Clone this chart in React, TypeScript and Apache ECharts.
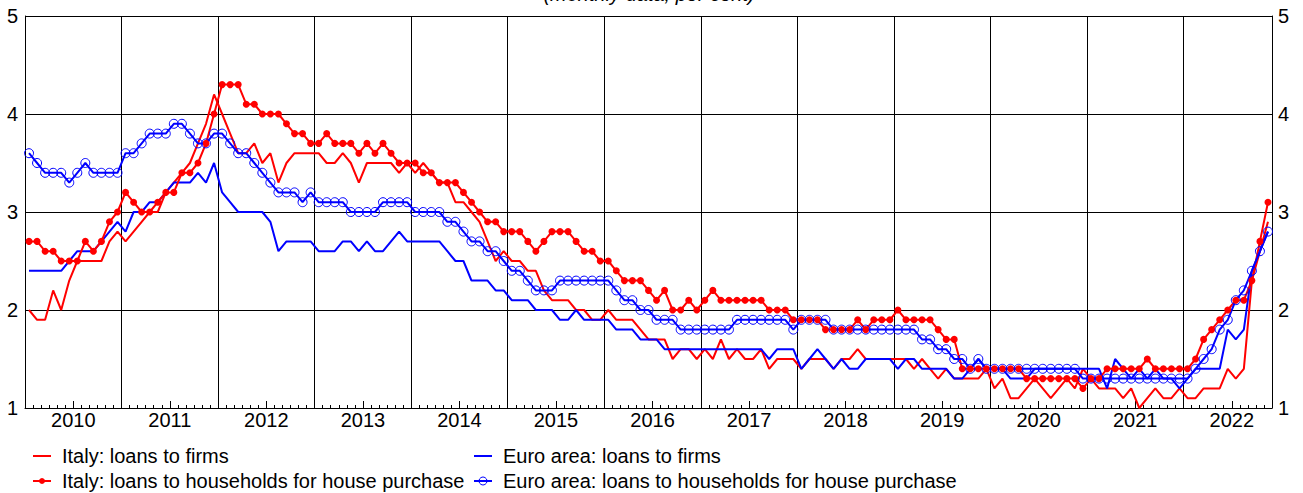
import React, { useEffect, useRef } from "react";
import * as echarts from "echarts";

// Monthly observations, January 2010 – November 2022 (per cent)
const italyFirms = [
  2.0, 1.9, 1.9, 2.2, 2.0, 2.3, 2.5, 2.5, 2.5, 2.5, 2.7, 2.8,
  2.7, 2.8, 2.9, 3.0, 3.0, 3.2, 3.3, 3.4, 3.5, 3.7, 3.9, 4.2,
  4.0, 3.8, 3.6, 3.6, 3.7, 3.5, 3.6, 3.3, 3.5, 3.6, 3.6, 3.6,
  3.6, 3.5, 3.5, 3.6, 3.5, 3.3, 3.5, 3.5, 3.5, 3.5, 3.4, 3.5,
  3.4, 3.5, 3.4, 3.3, 3.3, 3.1, 3.1, 3.0, 2.9, 2.7, 2.5, 2.6,
  2.5, 2.5, 2.4, 2.4, 2.2, 2.1, 2.1, 2.1, 2.0, 2.0, 1.9, 1.9,
  2.0, 1.9, 1.9, 1.9, 1.8, 1.7, 1.7, 1.7, 1.5, 1.6, 1.6, 1.5,
  1.6, 1.5, 1.7, 1.5, 1.6, 1.5, 1.5, 1.6, 1.4, 1.5, 1.5, 1.5,
  1.4, 1.5, 1.5, 1.5, 1.4, 1.5, 1.5, 1.6, 1.5, 1.5, 1.5, 1.5,
  1.5, 1.5, 1.4, 1.5, 1.4, 1.3, 1.4, 1.3, 1.3, 1.3, 1.3, 1.4,
  1.2, 1.3, 1.1, 1.1, 1.2, 1.3, 1.2, 1.1, 1.2, 1.3, 1.2, 1.4,
  1.3, 1.2, 1.2, 1.2, 1.1, 1.2, 1.0, 1.1, 1.2, 1.1, 1.1, 1.2,
  1.1, 1.1, 1.2, 1.2, 1.2, 1.4, 1.3, 1.4, 2.3, 2.6, 2.9,
];

const italyHouseholds = [
  2.7, 2.7, 2.6, 2.6, 2.5, 2.5, 2.5, 2.7, 2.6, 2.7, 2.9, 3.0,
  3.2, 3.1, 3.0, 3.0, 3.1, 3.2, 3.2, 3.4, 3.4, 3.5, 3.7, 4.0,
  4.3, 4.3, 4.3, 4.1, 4.1, 4.0, 4.0, 4.0, 3.9, 3.8, 3.8, 3.7,
  3.7, 3.8, 3.7, 3.7, 3.7, 3.6, 3.7, 3.6, 3.7, 3.6, 3.5, 3.5,
  3.5, 3.4, 3.4, 3.3, 3.3, 3.3, 3.2, 3.1, 3.0, 2.9, 2.9, 2.8,
  2.8, 2.8, 2.7, 2.6, 2.7, 2.8, 2.8, 2.8, 2.7, 2.6, 2.6, 2.5,
  2.5, 2.4, 2.3, 2.3, 2.3, 2.2, 2.1, 2.2, 2.0, 2.0, 2.1, 2.0,
  2.1, 2.2, 2.1, 2.1, 2.1, 2.1, 2.1, 2.1, 2.0, 2.0, 2.0, 1.9,
  1.9, 1.9, 1.9, 1.8, 1.8, 1.8, 1.8, 1.9, 1.8, 1.9, 1.9, 1.9,
  2.0, 1.9, 1.9, 1.9, 1.9, 1.8, 1.7, 1.7, 1.4, 1.4, 1.4, 1.4,
  1.4, 1.4, 1.4, 1.4, 1.3, 1.3, 1.3, 1.3, 1.3, 1.3, 1.3, 1.2,
  1.3, 1.3, 1.4, 1.4, 1.4, 1.4, 1.4, 1.5, 1.4, 1.4, 1.4, 1.4,
  1.4, 1.5, 1.7, 1.8, 1.9, 2.0, 2.1, 2.1, 2.3, 2.7, 3.1,
];

const euroFirms = [
  2.4, 2.4, 2.4, 2.4, 2.4, 2.5, 2.6, 2.6, 2.6, 2.7, 2.8, 2.9,
  2.8, 3.0, 3.0, 3.1, 3.1, 3.2, 3.3, 3.3, 3.3, 3.4, 3.3, 3.5,
  3.2, 3.1, 3.0, 3.0, 3.0, 3.0, 2.9, 2.6, 2.7, 2.7, 2.7, 2.7,
  2.6, 2.6, 2.6, 2.7, 2.7, 2.6, 2.7, 2.6, 2.6, 2.7, 2.8, 2.7,
  2.7, 2.7, 2.7, 2.7, 2.6, 2.5, 2.5, 2.3, 2.3, 2.3, 2.2, 2.2,
  2.1, 2.1, 2.1, 2.0, 2.0, 2.0, 1.9, 1.9, 2.0, 1.9, 1.9, 1.9,
  1.9, 1.8, 1.8, 1.8, 1.7, 1.7, 1.7, 1.6, 1.6, 1.6, 1.6, 1.6,
  1.6, 1.6, 1.6, 1.6, 1.6, 1.6, 1.6, 1.6, 1.5, 1.6, 1.6, 1.6,
  1.4, 1.5, 1.6, 1.5, 1.4, 1.5, 1.4, 1.4, 1.5, 1.5, 1.5, 1.5,
  1.4, 1.5, 1.5, 1.4, 1.4, 1.4, 1.4, 1.3, 1.3, 1.4, 1.5, 1.4,
  1.4, 1.4, 1.3, 1.3, 1.3, 1.4, 1.4, 1.4, 1.4, 1.4, 1.4, 1.4,
  1.4, 1.4, 1.2, 1.5, 1.4, 1.3, 1.4, 1.3, 1.4, 1.3, 1.3, 1.2,
  1.3, 1.4, 1.4, 1.4, 1.4, 1.8, 1.7, 1.8, 2.4, 2.6, 2.8,
];

const euroHouseholds = [
  3.6, 3.5, 3.4, 3.4, 3.4, 3.3, 3.4, 3.5, 3.4, 3.4, 3.4, 3.4,
  3.6, 3.6, 3.7, 3.8, 3.8, 3.8, 3.9, 3.9, 3.8, 3.7, 3.7, 3.8,
  3.8, 3.7, 3.6, 3.6, 3.5, 3.4, 3.3, 3.2, 3.2, 3.2, 3.1, 3.2,
  3.1, 3.1, 3.1, 3.1, 3.0, 3.0, 3.0, 3.0, 3.1, 3.1, 3.1, 3.1,
  3.0, 3.0, 3.0, 3.0, 2.9, 2.9, 2.8, 2.7, 2.7, 2.6, 2.6, 2.5,
  2.4, 2.4, 2.3, 2.2, 2.2, 2.2, 2.3, 2.3, 2.3, 2.3, 2.3, 2.3,
  2.3, 2.2, 2.1, 2.1, 2.0, 2.0, 1.9, 1.9, 1.9, 1.8, 1.8, 1.8,
  1.8, 1.8, 1.8, 1.8, 1.9, 1.9, 1.9, 1.9, 1.9, 1.9, 1.9, 1.8,
  1.9, 1.9, 1.9, 1.9, 1.8, 1.8, 1.8, 1.8, 1.8, 1.8, 1.8, 1.8,
  1.8, 1.8, 1.8, 1.7, 1.7, 1.6, 1.6, 1.5, 1.5, 1.4, 1.5, 1.4,
  1.4, 1.4, 1.4, 1.4, 1.4, 1.4, 1.4, 1.4, 1.4, 1.4, 1.4, 1.3,
  1.3, 1.3, 1.3, 1.3, 1.3, 1.3, 1.3, 1.3, 1.3, 1.3, 1.3, 1.3,
  1.3, 1.4, 1.5, 1.6, 1.8, 1.9, 2.1, 2.2, 2.4, 2.6, 2.8,
];

const yearLabels = [
  "2010", "2011", "2012", "2013", "2014", "2015", "2016",
  "2017", "2018", "2019", "2020", "2021", "2022",
];

const seriesNames = [
  "Italy: loans to firms",
  "Euro area: loans to firms",
  "Italy: loans to households for house purchase",
  "Euro area: loans to households for house purchase",
];

const subtitle = "(monthly data; per cent)";

const FONT = "'Liberation Sans', Arial, Helvetica, sans-serif";
const FS = 20;
const RED = "#ff0000";
const BLUE = "#0000ff";

function toPoints(values: number[]) {
  // x = month index, placed in the middle of the month's slot
  return values.map((v, i) => [i + 0.5, v]);
}

type LegendEntry = { name: string; color: string; marker: "none" | "dot" | "ring"; x: number; y: number };

function legendGraphics(entries: LegendEntry[]) {
  const els: any[] = [];
  entries.forEach((e) => {
    els.push({
      type: "line",
      shape: { x1: e.x, y1: e.y, x2: e.x + 18, y2: e.y },
      style: { stroke: e.color, lineWidth: 2 },
    });
    if (e.marker === "dot") {
      els.push({
        type: "circle",
        shape: { cx: e.x + 9, cy: e.y, r: 3 },
        style: { fill: e.color, stroke: e.color, lineWidth: 0 },
      });
    } else if (e.marker === "ring") {
      els.push({
        type: "circle",
        shape: { cx: e.x + 9, cy: e.y, r: 4 },
        style: { fill: "rgba(255,255,255,0)", stroke: e.color, lineWidth: 1 },
      });
    }
    els.push({
      type: "text",
      x: e.x + 29,
      y: e.y,
      style: {
        text: e.name,
        fontFamily: FONT,
        fontSize: FS,
        fill: "#000",
        align: "left",
        verticalAlign: "middle",
      },
    });
  });
  return els;
}

export default function App() {
  const ref = useRef<HTMLDivElement>(null);

  useEffect(() => {
    if (!ref.current) return;
    const chart = echarts.init(ref.current, undefined, { renderer: "svg" });
    const nMonths = italyFirms.length;

    const legendEntries: LegendEntry[] = [
      { name: seriesNames[0], color: RED, marker: "none", x: 33, y: 456 },
      { name: seriesNames[2], color: RED, marker: "dot", x: 33, y: 481 },
      { name: seriesNames[1], color: BLUE, marker: "none", x: 474, y: 456 },
      { name: seriesNames[3], color: BLUE, marker: "ring", x: 474, y: 481 },
    ];

    const option: any = {
      animation: false,
      backgroundColor: "#ffffff",
      textStyle: { fontFamily: FONT },
      grid: { left: 25, right: 31, top: 16, bottom: 85, containLabel: false },
      graphic: [
        {
          type: "text",
          x: 649,
          y: -6,
          style: {
            text: subtitle,
            fontFamily: FONT,
            fontSize: FS,
            fontStyle: "italic",
            fill: "#000",
            align: "center",
            verticalAlign: "middle",
          },
        },
        ...legendGraphics(legendEntries),
      ],
      xAxis: [
        {
          // year boundaries: vertical grid lines
          type: "value",
          position: "bottom",
          min: 0,
          max: nMonths,
          interval: 12,
          axisLine: { show: true, onZero: false, lineStyle: { color: "#000", width: 1 } },
          axisTick: { show: false },
          axisLabel: { show: false },
          splitLine: { show: true, lineStyle: { color: "#000", width: 1 } },
        },
        {
          // mid-year major ticks with year labels
          type: "value",
          position: "bottom",
          min: 0,
          max: nMonths,
          interval: 6,
          axisLine: { show: false, onZero: false },
          axisTick: { show: true, inside: true, length: 7, lineStyle: { color: "#000", width: 1 } },
          axisLabel: {
            show: true,
            margin: 2,
            fontFamily: FONT,
            fontSize: FS,
            color: "#000",
            formatter: (v: number) => {
              const k = Math.round((v - 6) / 12);
              if (Math.abs(v - (6 + 12 * k)) < 1e-6 && k >= 0 && k < yearLabels.length) {
                return yearLabels[k];
              }
              return "";
            },
          },
          splitLine: { show: false },
        },
        {
          // monthly minor ticks
          type: "value",
          position: "bottom",
          min: 0,
          max: nMonths,
          interval: 1,
          axisLine: { show: false, onZero: false },
          axisTick: { show: true, inside: true, length: 3, lineStyle: { color: "#000", width: 1 } },
          axisLabel: { show: false },
          splitLine: { show: false },
        },
      ],
      yAxis: [
        {
          type: "value",
          position: "left",
          min: 1,
          max: 5,
          interval: 1,
          axisLine: { show: true, onZero: false, lineStyle: { color: "#000", width: 1 } },
          axisTick: { show: false },
          axisLabel: { margin: 7, fontFamily: FONT, fontSize: FS, color: "#000" },
          splitLine: { show: true, lineStyle: { color: "#000", width: 1 } },
        },
        {
          type: "value",
          position: "right",
          min: 1,
          max: 5,
          interval: 1,
          axisLine: { show: true, onZero: false, lineStyle: { color: "#000", width: 1 } },
          axisTick: { show: false },
          axisLabel: { margin: 6, fontFamily: FONT, fontSize: FS, color: "#000" },
          splitLine: { show: false },
        },
      ],
      series: [
        {
          name: seriesNames[0],
          type: "line",
          xAxisIndex: 0,
          yAxisIndex: 0,
          data: toPoints(italyFirms),
          symbol: "none",
          lineStyle: { color: RED, width: 2 },
          itemStyle: { color: RED },
        },
        {
          name: seriesNames[1],
          type: "line",
          xAxisIndex: 0,
          yAxisIndex: 0,
          data: toPoints(euroFirms),
          symbol: "none",
          lineStyle: { color: BLUE, width: 2 },
          itemStyle: { color: BLUE },
        },
        {
          name: seriesNames[2],
          type: "line",
          xAxisIndex: 0,
          yAxisIndex: 0,
          data: toPoints(italyHouseholds),
          symbol: "circle",
          symbolSize: 7,
          showSymbol: true,
          showAllSymbol: true,
          lineStyle: { color: RED, width: 2 },
          itemStyle: { color: RED },
        },
        {
          name: seriesNames[3],
          type: "line",
          xAxisIndex: 0,
          yAxisIndex: 0,
          data: toPoints(euroHouseholds),
          symbol: "circle",
          symbolSize: 9,
          showSymbol: true,
          showAllSymbol: true,
          lineStyle: { color: BLUE, width: 2 },
          itemStyle: { color: "rgba(255,255,255,0)", borderColor: BLUE, borderWidth: 1 },
        },
      ],
    };

    chart.setOption(option);
    return () => {
      chart.dispose();
    };
  }, []);

  return (
    <div
      ref={ref}
      style={{ position: "absolute", left: 0, top: 0, width: 1303, height: 493 }}
    />
  );
}
